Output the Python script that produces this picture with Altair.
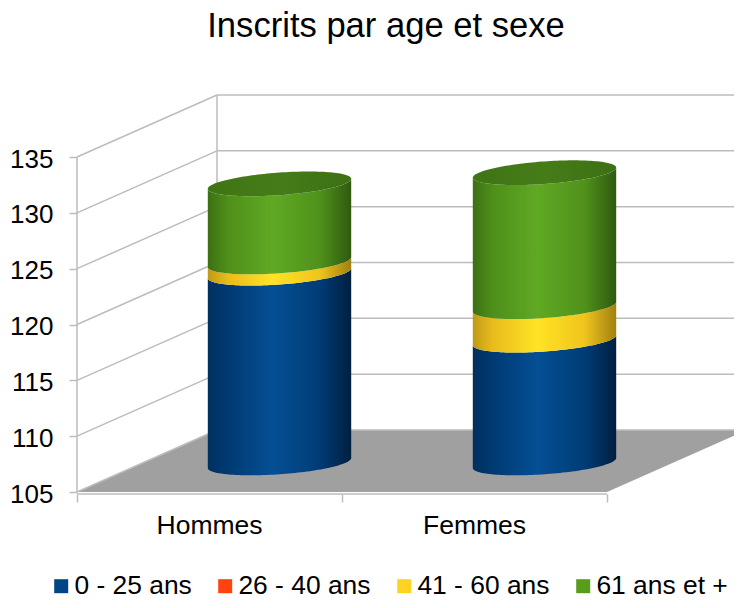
import math
import altair as alt
import pandas as pd

CATEGORIES = ["Hommes", "Femmes"]
SERIES = ["0 - 25 ans", "26 - 40 ans", "41 - 60 ans", "61 ans et +"]
COLORS = ["#004586", "#ff420e", "#ffd320", "#579d1c"]
V_0_25 = [122, 116]
V_26_40 = [0, 0]
V_41_60 = [1, 3]
V_61 = [7, 12]
TICKS = [105, 110, 115, 120, 125, 130, 135]

FONT = "Liberation Sans"
GRID = "#bcbcbc"
W, H = 726, 592
PX_CAT = 265.0            # pixels per category
PX_UNIT = 55.83 / 5       # pixels per value unit
X0, Y0 = 77 - 8, 492 - 8  # plot position of (category 0, value 105)
DEPTH_X = 140 / PX_CAT    # wall depth, in category units
DEPTH_Y = 62 / PX_UNIT    # wall depth, in value units
BASE = 105

x_scale = alt.Scale(domain=[-X0 / PX_CAT, (W - X0) / PX_CAT], range=[0, W], nice=False, zero=False)
y_scale = alt.Scale(domain=[BASE - (H - Y0) / PX_UNIT, BASE + Y0 / PX_UNIT], range=[H, 0], nice=False, zero=False)

GRADS = {
    "0 - 25 ans": [(0, "#00305f"), (0.14, "#003a72"), (0.45, "#054f95"), (0.78, "#003c76"), (1, "#001f40")],
    "41 - 60 ans": [(0, "#c09a18"), (0.14, "#e8bc1c"), (0.45, "#ffe324"), (0.78, "#f0c41e"), (1, "#a08010")],
    "61 ans et +": [(0, "#3c7014"), (0.14, "#4f8f1a"), (0.45, "#60a924"), (0.78, "#50911b"), (1, "#2f5a0f")],
}


def grad(stops):
    return alt.Gradient(gradient="linear", x1=0, x2=1, y1=0, y2=0,
                        stops=[alt.GradientStop(offset=o, color=c) for o, c in stops])


def X(**kw):
    return alt.X("x:Q", scale=x_scale, **kw)


def Y(**kw):
    return alt.Y("y:Q", scale=y_scale, **kw)


# floor
floor_df = pd.DataFrame({
    "x": [0, DEPTH_X, 2, 2 + DEPTH_X],
    "y": [BASE, BASE + DEPTH_Y, BASE + DEPTH_Y, BASE + DEPTH_Y],
    "y2": [BASE, BASE, BASE, BASE + DEPTH_Y],
})
floor = alt.Chart(floor_df).mark_area(color="#a0a0a0").encode(
    x=X(title=None, axis=alt.Axis(values=[0, 1, 2], labels=False, domain=False, grid=False, tickSize=8,
                                  tickColor=GRID, tickWidth=1.5, offset=-(H - Y0 - 2))),
    y=Y(title=None, axis=alt.Axis(values=TICKS, domain=False, grid=False, tickSize=8, tickColor=GRID,
                                  tickWidth=1.5, labelFontSize=26, labelFont=FONT, labelColor="#000000",
                                  labelPadding=16, offset=-X0, labelFlush=False, labelOverlap=False,
                                  labelOffset=2)),
    y2="y2:Q",
)

# walls and frame
rows = []
for t in TICKS:
    rows.append((0, t, DEPTH_X, t + DEPTH_Y))
    rows.append((DEPTH_X, t + DEPTH_Y, 2 + DEPTH_X, t + DEPTH_Y))
rows.append((0, TICKS[0], 0, TICKS[-1]))
rows.append((DEPTH_X, TICKS[0] + DEPTH_Y, DEPTH_X, TICKS[-1] + DEPTH_Y))
rows.append((0, TICKS[0] - 2 / PX_UNIT, 2, TICKS[0] - 2 / PX_UNIT))
rules_df = pd.DataFrame(rows, columns=["x", "y", "x2", "y2"])
rules = alt.Chart(rules_df).mark_rule(color=GRID, strokeWidth=1.5).encode(x=X(), y=Y(), x2="x2:Q", y2="y2:Q")

# cylinders
RX = 71.7 / PX_CAT
TILT = 5 / PX_UNIT
RY = 11.3 / PX_UNIT
LIFT = 29 / PX_UNIT
N = 72


def sweep():
    return [-math.cos(math.pi * i / N) for i in range(N + 1)]


def lower(cx, v):
    return [(cx + DEPTH_X / 2 + u * RX, v + LIFT + TILT * u - RY * math.sqrt(max(0, 1 - u * u))) for u in sweep()]


def upper(cx, v):
    return [(cx + DEPTH_X / 2 + u * RX, v + LIFT + TILT * u + RY * math.sqrt(max(0, 1 - u * u))) for u in sweep()]


cyl = []
for i, cat in enumerate(CATEGORIES):
    cx = i + 0.5
    level = BASE
    for name, vals in zip(SERIES, [V_0_25, V_26_40, V_41_60, V_61]):
        if vals[i] == 0:
            continue
        v = vals[i] if name == SERIES[0] else level + vals[i]
        bottom = lower(cx, level)
        top = lower(cx, v)
        df = pd.DataFrame({"x": [p[0] for p in bottom], "y": [p[1] for p in top], "y2": [p[1] for p in bottom]})
        cyl.append(alt.Chart(df).mark_area(color=grad(GRADS[name])).encode(x=X(), y=Y(), y2="y2:Q"))
        level = v
    low = lower(cx, level)
    up = upper(cx, level)
    df = pd.DataFrame({"x": [p[0] for p in low], "y": [p[1] for p in up], "y2": [p[1] for p in low]})
    cyl.append(alt.Chart(df).mark_area(color=grad([(0, "#3f7414"), (0.5, "#467c18"), (1, "#3c7014")])).encode(
        x=X(), y=Y(), y2="y2:Q"))

# category labels
cat_df = pd.DataFrame({"x": [0.5, 1.5], "y": [BASE - 42 / PX_UNIT] * 2, "label": CATEGORIES})
cats = alt.Chart(cat_df).mark_text(font=FONT, fontSize=26.5, color="#000000", baseline="alphabetic").encode(
    x=X(), y=Y(), text="label:N")

# legend carrier
leg_df = pd.DataFrame({"series": SERIES, "x": [0.5] * 4, "y": [BASE] * 4})
legend = alt.Chart(leg_df).mark_square(opacity=0).encode(
    x=X(), y=Y(),
    color=alt.Color("series:N", scale=alt.Scale(domain=SERIES, range=COLORS), sort=SERIES, title=None,
                    legend=alt.Legend(orient="none", legendX=40, legendY=565, direction="horizontal",
                                      columns=4, symbolType="square", symbolSize=196, symbolOpacity=1,
                                      symbolStrokeWidth=0, labelFont=FONT, labelFontSize=26.4,
                                      labelColor="#000000", columnPadding=20, gridAlign="none",
                                      labelOffset=0, padding=0, labelLimit=300)),
)

chart = alt.layer(floor, rules, *cyl, cats, legend).properties(
    width=W, height=H,
    autosize=alt.AutoSizeParams(type="none"),
    padding=0,
    title=alt.TitleParams("Inscrits par age et sexe", font=FONT, fontSize=34.6, fontWeight="normal",
                          color="#000000", anchor="middle", offset=-37, dx=15),
).configure_view(stroke=None)

chart.save("out.html", embed_options={"renderer": "svg", "actions": False})
